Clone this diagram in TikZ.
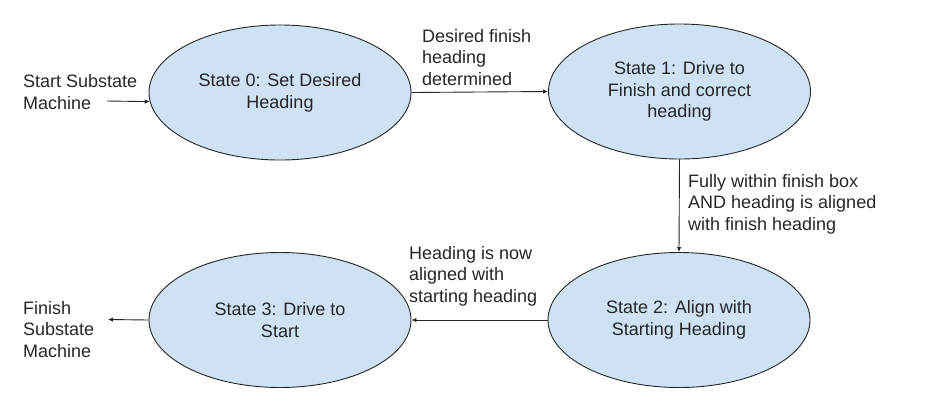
\documentclass[tikz,border=0pt]{standalone}
\usepackage{fontspec}
\setmainfont{Liberation Sans}
\usepackage{tikz}
\usetikzlibrary{arrows.meta}
\usetikzlibrary{shapes}
\definecolor{stfill}{HTML}{CFE2F3}
\definecolor{ink}{HTML}{262626}

\begin{document}
\begin{tikzpicture}[
		x=1pt, y=-1pt,
		every node/.style = {text=ink, font=\fontsize{18}{21.7}\selectfont},
		S/.style = {ellipse, draw=ink, fill=stfill, line width=0.9pt,% states of the substate machine
			minimum width=262pt, minimum height=135pt,
			inner sep=0pt, align=center},
		L/.style = {anchor=base west, inner sep=0pt, align=left},% labels, base = last line
		E/.style = {draw=ink, line width=0.9pt,
			-{Latex[length=5pt, width=4.5pt]}},
		]
		\useasboundingbox (0,0) rectangle (932,400);
		\node[S] (s0) at (280,92.5) {State 0: Set Desired\\Heading};
		\node[S] (s1) at (679.5,91.5) {State 1: Drive to\\Finish and correct\\heading};
		\node[S] (s2) at (679,320) {State 2: Align with\\Starting Heading};
		\node[S] (s3) at (280,320) {State 3: Drive to\\Start};
		\coordinate (in) at (107,101);
		\coordinate (out) at (108,319.5);
		\node[L] (lin) at (23,109.5) {Start Substate\\Machine};
		\node[L] (l01) at (422,85.5) {Desired finish\\heading\\determined};
		\node[L] (l12) at (688,230.5) {Fully within finish box\\AND heading is aligned\\with finish heading};
		\node[L] (l23) at (409,302.5) {Heading is now\\aligned with\\starting heading};
		\node[L] (lout) at (23,357.5) {Finish\\Substate\\Machine};
		\draw[E] (in) -- (s0.184);
		\draw[E] (s0.east) -- (s1.west);
		\draw[E] (s1.south) -- (s2.north);
		\draw[E] (s2.west) -- (s3.east);
		\draw[E] (s3.west) -- (out);
	\end{tikzpicture}
\end{document}
